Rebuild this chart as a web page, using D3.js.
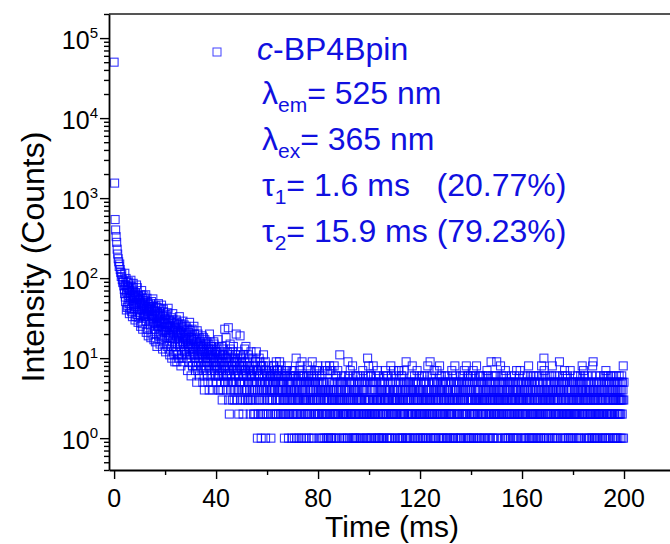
<!DOCTYPE html>
<meta charset="utf-8">
<html>
<script src="https://d3js.org/d3.v7.min.js"></script>

<style>
    body {
        margin: 0;
        background-color: #fff;
    }
    text {
        font-family: "Liberation Sans", Arial, helvetica, sans-serif;
    }
    .axis .domain { stroke: #000; stroke-width: 1.8; }
    .axis line { stroke: #000; stroke-width: 1.4; }
</style>

<body>
<svg id="decay" width="670" height="544"></svg>

<script>
// ---------------- data ----------------
// first channels, 0.2 ms apart
const earlyStart = 0, earlyStep = 0.2;
const earlyCounts = [50000, 1540, 540, 400, 330, 280, 230, 200, 175, 160,
                     140, 150, 128, 118, 105, 112, 96, 88, 92, 80];

// 4 - 60 ms, even channels (4.0, 4.2, ...)
const midStart = 4, midStep = 0.2;
const midCounts = [
    72, 115, 58, 81, 40, 66, 88, 45, 75, 61,
    36, 70, 56, 94, 42, 63, 33, 77, 45, 60,
    58, 30, 66, 47, 82, 35, 54, 28, 61, 50,
    37, 55, 25, 48, 70, 40, 23, 52, 44, 36,
    46, 33, 62, 21, 41, 35, 50, 19, 39, 44,
    30, 48, 18, 36, 42, 27, 55, 31, 17, 38,
    34, 16, 45, 28, 14, 37, 26, 48, 23, 30,
    15, 33, 27, 46, 22, 13, 29, 38, 24, 31,
    28, 12, 35, 21, 14, 26, 42, 19, 24, 11,
    25, 18, 32, 10, 22, 36, 12, 20, 27, 9,
    14, 23, 30, 9, 21, 11, 26, 18, 33, 15,
    20, 8, 24, 10, 18, 29, 15, 22, 12, 17,
    16, 25, 11, 19, 7, 14, 21, 13, 28, 12,
    15, 6, 18, 23, 8, 13, 17, 11, 20, 14,
    9, 16, 5, 22, 7, 14, 11, 18, 10, 13,
    15, 8, 12, 19, 5, 11, 14, 4, 17, 10,
    12, 7, 16, 9, 5, 13, 10, 20, 8, 11,
    6, 14, 9, 11, 4, 10, 15, 7, 12, 8,
    10, 5, 13, 8, 17, 6, 9, 11, 4, 12,
    7, 14, 3, 9, 11, 6, 8, 23, 5, 10,
    8, 4, 12, 6, 24, 9, 2, 7, 13, 5,
    6, 10, 3, 8, 14, 5, 9, 4, 11, 7,
    5, 9, 3, 12, 6, 4, 8, 19, 5, 7,
    10, 4, 6, 2, 8, 5, 13, 3, 7, 6,
    4, 9, 5, 11, 3, 6, 8, 2, 7, 5,
    6, 3, 10, 4, 7, 5, 2, 9, 4, 12,
    5, 1, 7, 3, 6, 4, 9, 2, 5, 8,
    3, 6, 4, 11, 2, 5, 7, 1, 4, 6
];

// 4 - 60 ms, odd channels (4.1, 4.3, ...)
const midStartB = 4.1;
const midCountsB = [
    64, 83, 51, 99, 69, 43, 77, 57, 90, 48,
    67, 41, 59, 79, 38, 71, 52, 86, 47, 55,
    44, 63, 33, 57, 49, 76, 40, 59, 32, 53,
    48, 34, 62, 41, 27, 57, 46, 33, 60, 39,
    35, 53, 29, 43, 56, 23, 38, 47, 31, 41,
    41, 26, 34, 51, 20, 33, 44, 28, 39, 23,
    27, 39, 20, 32, 43, 25, 35, 19, 29, 42,
    36, 20, 25, 17, 34, 28, 41, 21, 27, 18,
    22, 31, 15, 25, 37, 18, 27, 13, 30, 20,
    19, 28, 14, 23, 16, 30, 21, 11, 25, 17,
    24, 12, 19, 28, 15, 22, 10, 20, 16, 27,
    14, 21, 11, 25, 16, 9, 19, 26, 13, 18,
    20, 12, 17, 10, 23, 15, 9, 18, 14, 22,
    11, 17, 13, 8, 19, 12, 25, 10, 15, 7,
    13, 8, 17, 11, 20, 9, 14, 6, 12, 16,
    10, 14, 7, 13, 9, 18, 6, 12, 8, 15,
    9, 13, 6, 11, 15, 8, 4, 12, 10, 14,
    11, 7, 13, 5, 9, 16, 8, 10, 6, 12,
    8, 12, 6, 10, 4, 14, 7, 9, 11, 5,
    9, 6, 11, 4, 13, 8, 5, 10, 7, 18,
    6, 10, 5, 8, 3, 11, 7, 15, 4, 9,
    5, 8, 12, 4, 7, 3, 10, 6, 9, 20,
    7, 4, 10, 6, 2, 8, 5, 11, 3, 9,
    5, 8, 3, 11, 6, 4, 9, 7, 14, 4,
    6, 3, 8, 5, 10, 4, 7, 3, 12, 6,
    4, 7, 5, 2, 8, 6, 3, 9, 5, 7,
    7, 4, 2, 6, 10, 3, 5, 8, 1, 4,
    5, 2, 8, 4, 6, 3, 9, 5, 2, 7
];

// 60 - 200 ms tail, one character per channel (base 36: a = 10, b = 11 ...)
const tailStart = 60, tailEnd = 200;
const tailCounts = [
    "45362857436546213746534268584746253592637745264539",
    "43526847525436253416372463745286351425362546354172",
    "35426371424635a24153254361734286524159364253146325",
    "34251362852536142537435261495331462537245234763528",
    "32415726343142562415253413274842135273414132583471",
    "24137253412358423162264135270324531b35423465132052",
    "13423562414325214936231542735252431826143521432614",
    "13245364231253461325352417042543253162412531a26382",
    "32143526612143528352423152461352731326143152432514",
    "43125261343524734216243615320413425816231253427343",
    "24513263424132574713352413621631425327252413495132",
    "31425324153524132648241353426145231524733215436241",
    "42135263412345132623514213246382451324392136243152",
    "25341752413142537253413524861243264135241532143265",
    "52413261432453123542135272634131524385146342513205",
    "34215243163152436253241735244218523614563142514362",
    "13425362712153246342583132414532614356213524362513",
    "24315324623471536241352415329425631342145236524362",
    "91432513424325384263521436253413527136243152431524",
    "25341523632143524153621435247314215324632573241532",
    "32415326414235213542634158431352643125142532614235",
    "14253624132531426352413214826352413a73142632451324",
    "25314263523413526481425341352623154234132524369254",
    "41325342615243517226351423562413214253721435241352",
    "35214263524132543621435213524615432842537243612534",
    "24153624351324152432516342819432513241326524132452",
    "31425263412534213426531425137625142362513425316242",
    "52431624351324153426134521432563241325436125348135"
].join("");

const xTicks = [0, 40, 80, 120, 160, 200];
const xMinor = [20, 60, 100, 140, 180, 220];
const yTicks = [1, 10, 100, 1000, 10000, 100000];

const legendTitle = "-BP4Bpin";
const textColor = "#1010e0";
const markColor = "#0000ff";

// ---------------- build points ----------------
let points = [];
earlyCounts.forEach((c, i) => points.push({t: earlyStart + i * earlyStep, c: c}));
midCounts.forEach((c, i) => points.push({t: midStart + i * midStep, c: c}));
midCountsB.forEach((c, i) => points.push({t: midStartB + i * midStep, c: c}));
const tailVals = tailCounts.split("").map(ch => parseInt(ch, 36));
const tailStep = (tailEnd - tailStart) / (tailVals.length - 1);
tailVals.forEach((c, i) => points.push({t: tailStart + i * tailStep, c: c}));
points = points.filter(d => d.c > 0);   // zero counts vanish on the log axis
points.sort((a, b) => a.t - b.t);

// ---------------- scales ----------------
const svg = d3.select("#decay");
const x = d3.scaleLinear().domain([-2, 220]).range([109, 675]);
const y = d3.scaleLog().domain([0.4, 2e5]).range([470, 14]);

let yMinor = [];
for (let e = -1; e <= 5; e++) {
    for (let m = 2; m <= 9; m++) {
        const v = m * Math.pow(10, e);
        if (v >= 0.4 && v <= 2e5) yMinor.push(v);
    }
}

// top frame line
svg.append("line")
    .attr("x1", 109).attr("x2", 670)
    .attr("y1", 14).attr("y2", 14)
    .attr("stroke", "#555").attr("stroke-width", 2);

// ---------------- markers ----------------
const s = 8;
svg.append("g")
    .selectAll("rect")
    .data(points)
    .join("rect")
        .attr("x", d => x(d.t) - s / 2)
        .attr("y", d => y(d.c) - s / 2)
        .attr("width", s)
        .attr("height", s)
        .attr("fill", "none")
        .attr("stroke", markColor)
        .attr("stroke-opacity", 0.8)
        .attr("stroke-width", 1.1);

// ---------------- axes ----------------
const gx = svg.append("g").attr("class", "axis").attr("transform", "translate(0,470)");
gx.call(d3.axisBottom(x).tickValues(xTicks).tickSize(9).tickSizeOuter(0).tickFormat(""));
gx.append("g")
    .call(d3.axisBottom(x).tickValues(xMinor).tickSize(5).tickSizeOuter(0).tickFormat(""))
    .select(".domain").remove();

const gy = svg.append("g").attr("class", "axis").attr("transform", "translate(109,0)");
gy.call(d3.axisLeft(y).tickValues(yTicks).tickSize(9).tickSizeOuter(0).tickFormat(""));
gy.append("g")
    .call(d3.axisLeft(y).tickValues(yMinor).tickSize(5).tickSizeOuter(0).tickFormat(""))
    .select(".domain").remove();

// x tick labels
svg.append("g")
    .selectAll("text")
    .data(xTicks)
    .join("text")
        .attr("x", d => x(d))
        .attr("y", 507)
        .attr("text-anchor", "middle")
        .attr("font-size", 25)
        .attr("fill", "#000")
        .text(d => d);

// y tick labels 10^n
svg.append("g")
    .selectAll("text")
    .data(yTicks)
    .join("text")
        .attr("x", 98)
        .attr("y", d => y(d) + 11)
        .attr("text-anchor", "end")
        .attr("font-size", 25)
        .attr("fill", "#000")
        .each(function(d) {
            const t = d3.select(this);
            t.append("tspan").text("10");
            t.append("tspan").attr("font-size", 15).attr("dy", -11)
                .text(Math.round(Math.log10(d)));
        });

// axis titles
svg.append("text")
    .attr("x", 392).attr("y", 537)
    .attr("text-anchor", "middle")
    .attr("font-size", 30)
    .text("Time (ms)");

svg.append("text")
    .attr("transform", "translate(44,257) rotate(-90)")
    .attr("text-anchor", "middle")
    .attr("font-size", 32)
    .text("Intensity (Counts)");

// ---------------- legend / annotation ----------------
svg.append("rect")
    .attr("x", 213).attr("y", 48)
    .attr("width", 8).attr("height", 8)
    .attr("fill", "none")
    .attr("stroke", markColor).attr("stroke-opacity", 0.75);

const note = svg.append("g").attr("fill", textColor).attr("font-size", 32);

let t1 = note.append("text").attr("x", 257).attr("y", 60);
t1.append("tspan").attr("font-style", "italic").text("c");
t1.append("tspan").text(legendTitle);

function subLine(yy, sym, sub, rest) {
    const t = note.append("text").attr("x", 262).attr("y", yy);
    t.append("tspan").text(sym);
    t.append("tspan").attr("font-size", 21).attr("dy", 8).text(sub);
    t.append("tspan").attr("dy", -8).text(rest);
}
subLine(104, "\u03bb", "em", "= 525 nm");
subLine(150, "\u03bb", "ex", "= 365 nm");
subLine(196, "\u03c4", "1", "= 1.6 ms\u00a0\u00a0\u00a0(20.77%)");
subLine(242, "\u03c4", "2", "= 15.9 ms (79.23%)");
</script>
</body>
</html>
